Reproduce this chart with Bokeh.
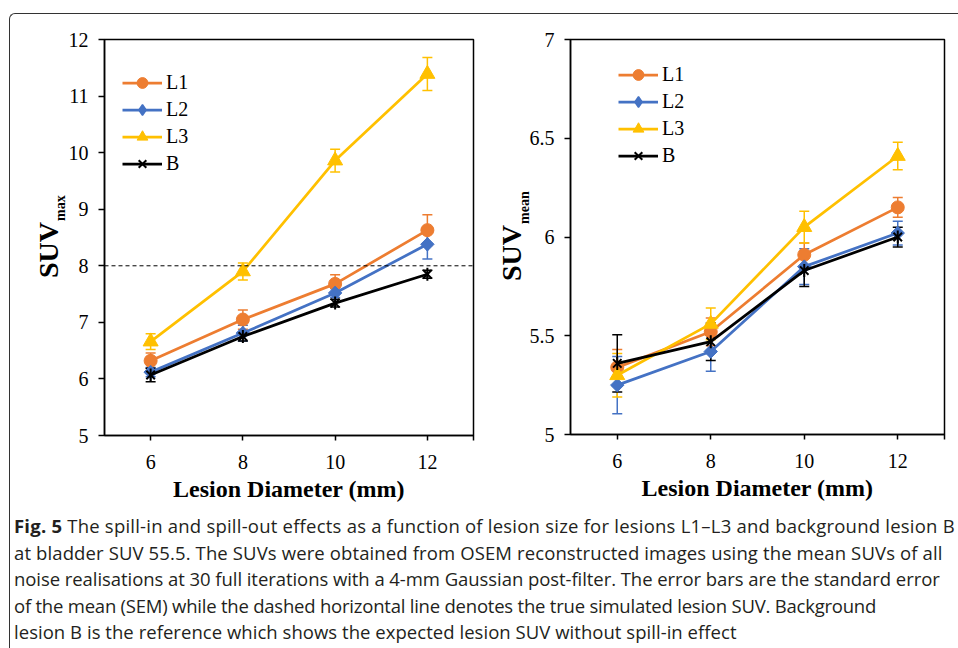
import numpy as np
from bokeh.plotting import figure
from bokeh.models import (ColumnDataSource, Whisker, TeeHead, Legend, LegendItem,
                          Span, Div, FixedTicker)
from bokeh.layouts import row, column
from bokeh.embed import file_html
from bokeh.resources import INLINE

# ---------------- data ----------------
diameters = [6, 8, 10, 12]
series_names = ["L1", "L2", "L3", "B"]

# SUVmax (left panel)
max_L1 = [6.32, 7.05, 7.68, 8.63]
max_L2 = [6.12, 6.81, 7.52, 8.38]
max_L3 = [6.66, 7.90, 9.86, 11.39]
max_B = [6.07, 6.75, 7.34, 7.85]
max_err_L1 = [0.14, 0.17, 0.16, 0.27]
max_err_L2 = [0.08, 0.14, 0.08, 0.26]
max_err_L3 = [0.14, 0.15, 0.20, 0.29]
max_err_B = [0.12, 0.08, 0.07, 0.07]
true_suv = 8.0

# SUVmean (right panel)
mean_L1 = [5.34, 5.52, 5.91, 6.15]
mean_L2 = [5.25, 5.42, 5.85, 6.02]
mean_L3 = [5.30, 5.56, 6.05, 6.41]
mean_B = [5.36, 5.47, 5.83, 6.00]
mean_err_L1 = [0.09, 0.07, 0.06, 0.05]
mean_err_L2 = [0.145, 0.10, 0.09, 0.06]
mean_err_L3 = [0.11, 0.08, 0.08, 0.07]
mean_err_B = [0.145, 0.095, 0.08, 0.05]

max_ticks = [5, 6, 7, 8, 9, 10, 11, 12]
mean_ticks = [5, 5.5, 6, 6.5, 7]
mean_tick_labels = ["5", "5.5", "6", "6.5", "7"]
x_ticks = [6, 8, 10, 12, 13]
x_tick_labels = ["6", "8", "10", "12", ""]

caption_lines = [
    "<b style='font-weight:700'>Fig. 5</b> The spill-in and spill-out effects as a function of "
    "lesion size for lesions L1&ndash;L3 and background lesion B",
    "at bladder SUV 55.5. The SUVs were obtained from OSEM reconstructed images using the "
    "mean SUVs of all",
    "noise realisations at 30 full iterations with a 4-mm Gaussian post-filter. The error "
    "bars are the standard error",
    "of the mean (SEM) while the dashed horizontal line denotes the true simulated lesion SUV. "
    "Background",
    "lesion B is the reference which shows the expected lesion SUV without spill-in effect",
]
caption_spacing = [0.22, 0.12, -0.06, -0.22, 0.04]

colors = {"L1": "#ED7D31", "L2": "#4472C4", "L3": "#FFC000", "B": "#000000"}
SERIF = "Liberation Serif"


def make_panel(vals, errs, yr, yticks, ytick_labels, fw, fh, mbl, mbb,
               legend_loc, hline=None):
    p = figure(frame_width=fw, frame_height=fh, x_range=(5, 13), y_range=yr,
               output_backend="svg", toolbar_location=None,
               min_border_left=mbl, min_border_right=7, min_border_top=25,
               min_border_bottom=mbb, background_fill_color="white",
               border_fill_color=None, margin=0)
    p.xgrid.visible = False
    p.ygrid.visible = False
    p.outline_line_color = "black"
    p.outline_line_width = 1.5

    for ax in (p.xaxis, p.yaxis):
        ax.axis_line_color = "black"
        ax.axis_line_width = 1.5
        ax.major_tick_line_width = 1.5
        ax.major_tick_line_color = "black"
        ax.minor_tick_line_color = None
        ax.major_tick_in = 0
        ax.major_label_text_font = SERIF
        ax.major_label_text_font_size = "20px"
        ax.major_label_text_color = "black"

    p.xaxis.ticker = FixedTicker(ticks=x_ticks)
    p.xaxis.major_label_overrides = {t: l for t, l in zip(x_ticks, x_tick_labels)}
    p.xaxis.major_tick_out = 5
    p.xaxis.major_label_standoff = 14
    p.xaxis.axis_label = "Lesion Diameter (mm)"
    p.xaxis.axis_label_text_font = SERIF
    p.xaxis.axis_label_text_font_style = "bold"
    p.xaxis.axis_label_text_font_size = "24px"
    p.xaxis.axis_label_text_color = "black"
    p.xaxis.axis_label_standoff = 4

    p.yaxis.ticker = FixedTicker(ticks=yticks)
    p.yaxis.major_label_overrides = {t: l for t, l in zip(yticks, ytick_labels)}
    p.yaxis.major_tick_out = 6
    p.yaxis.major_label_standoff = 10

    if hline is not None:
        p.add_layout(Span(location=hline, dimension="width", line_color="black",
                          line_width=1, line_dash="4 3"))

    items = []
    for name in series_names:
        c = colors[name]
        v = vals[name]
        e = errs[name]
        src = ColumnDataSource(dict(x=diameters, y=v,
                                    upper=[a + b for a, b in zip(v, e)],
                                    lower=[a - b for a, b in zip(v, e)]))
        p.add_layout(Whisker(base="x", upper="upper", lower="lower", source=src,
                             line_color=c, line_width=1.5,
                             upper_head=TeeHead(size=10, line_color=c, line_width=1.5),
                             lower_head=TeeHead(size=10, line_color=c, line_width=1.5)))
        lr = p.line("x", "y", source=src, line_color=c, line_width=2.75)
        rs = [lr]
        if name == "L1":
            rs.append(p.scatter("x", "y", source=src, marker="circle", size=13,
                                fill_color=c, line_color=c))
        elif name == "L2":
            # diamond symbol used by the legend (hidden beneath the rotated squares)
            rs.append(p.scatter("x", "y", source=src, marker="diamond", size=12,
                                fill_color=c, line_color=c, line_width=1.5))
            p.scatter("x", "y", source=src, marker="square", angle=np.pi / 4,
                      size=9.5, fill_color=c, line_color=c)
        elif name == "L3":
            rs.append(p.scatter("x", "y", source=src, marker="triangle", size=15,
                                fill_color=c, line_color=c))
        else:
            rs.append(p.scatter("x", "y", source=src, marker="x", size=12,
                                line_color=c, line_width=2))
            rs.append(p.scatter("x", "y", source=src, marker="dash", angle=np.pi / 2,
                                size=13, line_color=c, line_width=2))
        items.append(LegendItem(label=name, renderers=rs))

    leg = Legend(items=items, location=legend_loc, padding=0, margin=0, spacing=0,
                 glyph_width=40, glyph_height=27, label_height=27, label_standoff=4,
                 label_text_font=SERIF, label_text_font_size="20px",
                 label_text_color="black", border_line_alpha=0,
                 background_fill_alpha=0)
    p.add_layout(leg)
    return p


p1 = make_panel(
    {"L1": max_L1, "L2": max_L2, "L3": max_L3, "B": max_B},
    {"L1": max_err_L1, "L2": max_err_L2, "L3": max_err_L3, "B": max_err_B},
    (5, 12), max_ticks, [str(t) for t in max_ticks],
    369, 396, 40, 76, (18, 258), hline=true_suv)

p2 = make_panel(
    {"L1": mean_L1, "L2": mean_L2, "L3": mean_L3, "B": mean_B},
    {"L1": mean_err_L1, "L2": mean_err_L2, "L3": mean_err_L3, "B": mean_err_B},
    (5, 7), mean_ticks, mean_tick_labels,
    374, 395, 43, 77, (48, 265))


def y_title(width, height, main_left, main_top, sub, sub_left, sub_top):
    span = ('position:absolute;transform-origin:0 0;transform:rotate(-90deg);'
            'white-space:nowrap;font-family:&quot;Liberation Serif&quot;,serif;'
            'font-weight:bold;color:#000;')
    html = (f'<div style="position:relative;width:{width}px;height:{height}px;">'
            f'<span style="{span}left:{main_left}px;top:{main_top}px;'
            f'font-size:28px;line-height:28px;">SUV</span>'
            f'<span style="{span}left:{sub_left}px;top:{sub_top}px;'
            f'font-size:14px;line-height:14px;">{sub}</span></div>')
    return Div(text=html, width=width, height=height, margin=0,
               styles={"overflow": "visible"})


t1 = y_title(64, 497, 34.5, 264.4, "max", 54.3, 207.4)
t2 = y_title(46, 497, 18.2, 267, "mean", 38.0, 210)

frame_html = ('<div style="position:relative;width:950px;height:14px;">'
              '<div style="position:absolute;left:9px;top:12.5px;width:949px;height:635px;'
              'box-sizing:border-box;border-left:1.5px solid #333;border-top:1.5px solid #333;'
              'border-top-left-radius:6px;"></div></div>')
frame_div = Div(text=frame_html, width=950, height=14, margin=0,
                styles={"overflow": "visible"})

caption_html = "<br>".join(
    f'<span style="letter-spacing:{ls}px">{txt}</span>'
    for txt, ls in zip(caption_lines, caption_spacing))
caption = Div(text=caption_html, width=950, height=134, margin=0,
              styles={"font-family": "'Open Sans', sans-serif", "font-size": "18.5px",
                      "line-height": "26.5px", "color": "#231f20",
                      "white-space": "nowrap", "padding-left": "14px",
                      "padding-top": "2px", "overflow": "visible"})

layout = column(frame_div, row(t1, p1, t2, p2), caption)

open("out.html", "w").write(file_html(layout, INLINE))
